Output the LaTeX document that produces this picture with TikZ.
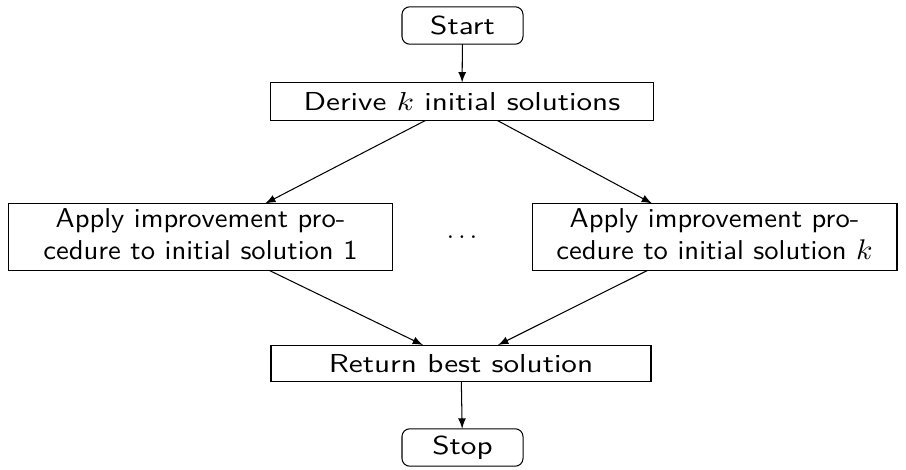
\documentclass[tikz,border=0pt]{standalone}
\usepackage{graphicx}
\usetikzlibrary{arrows}
% box labels are set a little wider than the font's natural width
\newcommand{\widetext}[1]{\scalebox{1.2}[1]{#1}}
\newcommand{\twolines}[2]{\scalebox{1.05}[1]{\fontsize{10.5}{12.2}\selectfont
  \begin{tabular}{@{}c@{}}#1\\#2\end{tabular}}}
\begin{document}
\begin{tikzpicture}[x=0.385pt, y=-0.385pt,
  font=\sffamily,
  every node/.style={inner sep=0pt, outer sep=0pt, line width=0.4pt},
  terminal/.style={draw, rounded corners=3pt, minimum width=46.6pt, minimum height=14.4pt},
  process/.style={draw, minimum height=14.6pt},
  flow/.style={-latex, line width=0.4pt}]
\useasboundingbox (0,0) rectangle (906,470);

\node[terminal] (start) at (462.5,25.5) {\widetext{Start}};
\node[process, minimum width=147.8pt] (derive) at (462,101.5) {\widetext{Derive $k$ initial solutions}};
\node[process, minimum width=148.2pt, minimum height=25.8pt] (imp1) at (200.5,237)
  {\twolines{Apply improvement pro-}{cedure to initial solution 1}};
\node (dots) at (462,237) {$\ldots$};
\node[process, minimum width=140.5pt, minimum height=25.8pt] (impk) at (714.5,237)
  {\twolines{Apply improvement pro-}{cedure to initial solution $k$}};
\node[process, minimum width=146.3pt, minimum height=14.2pt] (best) at (461,363.5) {\widetext{Return best solution}};
\node[terminal] (stop) at (462.5,447.5) {\widetext{Stop}};

\draw[flow] (start) -- (derive);
\draw[flow] (derive) -- (imp1);
\draw[flow] (derive) -- (impk);
\draw[flow] (imp1) -- (best);
\draw[flow] (impk) -- (best);
\draw[flow] (best) -- (stop);
\end{tikzpicture}
\end{document}
